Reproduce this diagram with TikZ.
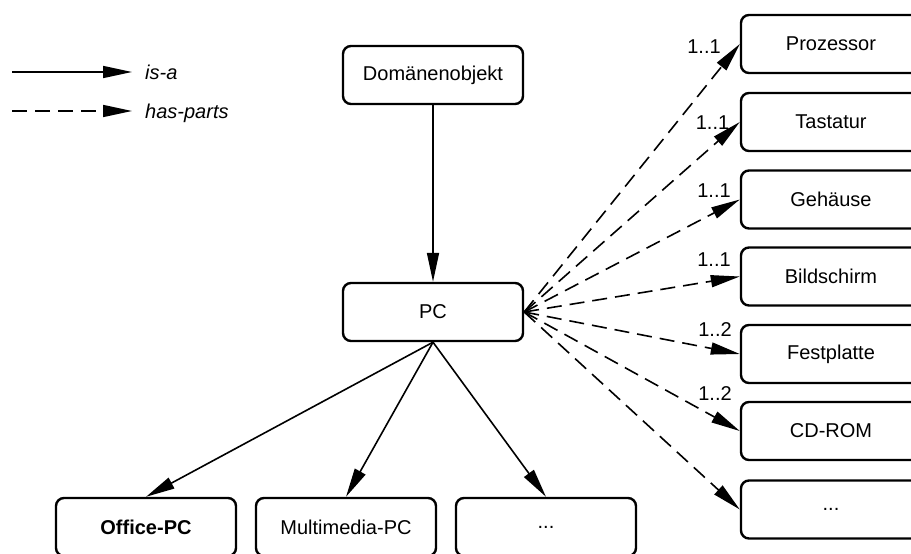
\documentclass[tikz,border=0pt]{standalone}
\usepackage{fontspec}
\setmainfont{Liberation Sans}
\usetikzlibrary{arrows.meta}
\begin{document}
\begin{tikzpicture}[x=1pt,y=-1pt,
  txt/.style={font=\fontsize{20}{24}\selectfont},
  box/.style={txt,draw,line width=2.4pt,rounded corners=8pt,
    minimum width=180pt,minimum height=58pt,inner sep=0pt},
  isa/.style={line width=1.6pt,-{Triangle[length=29pt,width=12pt]}},
  hasparts/.style={isa,dash pattern=on 15pt off 8pt},
  mult/.style={txt,inner sep=0pt}]
\useasboundingbox (0,0) rectangle (911,554);
\clip (0,0) rectangle (911,554);

% legend
\coordinate (l1a) at (12,72);  \coordinate (l1b) at (132,72);
\coordinate (l2a) at (12,111); \coordinate (l2b) at (132,111);
\draw[isa] (l1a) -- (l1b);
\draw[hasparts] (l2a) -- (l2b);
\node[txt,anchor=base west,inner sep=0pt,font=\fontsize{20}{24}\selectfont\itshape] (lisa) at (145,79) {is-a};
\node[txt,anchor=base west,inner sep=0pt,font=\fontsize{20}{24}\selectfont\itshape] (lhas) at (145,118) {has-parts};

% hierarchy
\node[box] (dom) at (433,75) {Domänenobjekt};
\node[box] (pc) at (433,312) {PC};
\node[box,font=\fontsize{20}{24}\selectfont\bfseries] (office) at (146,527) {Office-PC};
\node[box] (multi) at (346,527) {Multimedia-PC};
\node[box] (more) at (546,527) {...};

\draw[isa] (dom) -- (pc);
\draw[isa] (pc.south) -- (office.north);
\draw[isa] (pc.south) -- (multi.north);
\draw[isa] (pc.south) -- (more.north);

% parts
\node[box] (cpu) at (831,44) {Prozessor};
\node[box] (kbd) at (831,122) {Tastatur};
\node[box] (case) at (831,199.5) {Gehäuse};
\node[box] (scr) at (831,276.5) {Bildschirm};
\node[box] (hdd) at (831,354) {Festplatte};
\node[box] (cd) at (831,431) {CD-ROM};
\node[box] (etc) at (831,509.5) {...};

\foreach \p in {cpu,kbd,case,scr,hdd,cd,etc}
  \draw[hasparts] (pc.east) -- (\p.west);

% multiplicities
\node[mult] (m1) at (704,47) {1..1};
\node[mult] (m2) at (712.5,123) {1..1};
\node[mult] (m3) at (714,191) {1..1};
\node[mult] (m4) at (714,260) {1..1};
\node[mult] (m5) at (715,330) {1..2};
\node[mult] (m6) at (715,394) {1..2};
\end{tikzpicture}
\end{document}
